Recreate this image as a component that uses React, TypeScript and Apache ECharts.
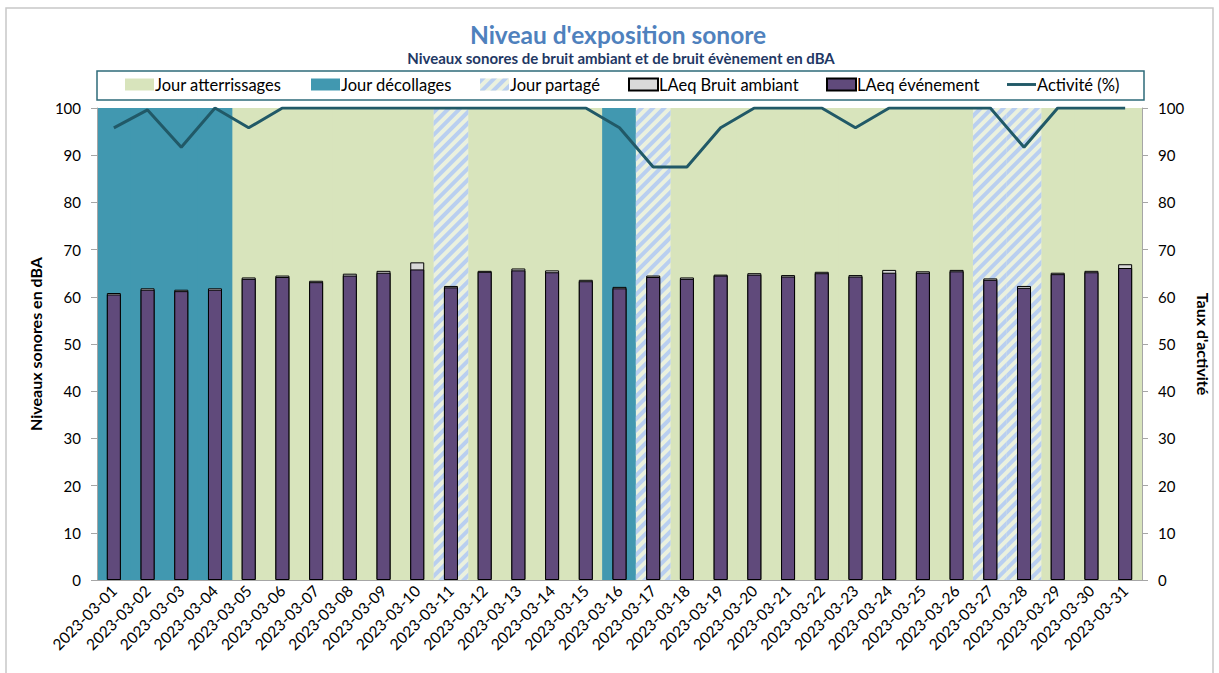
import React, { useEffect, useRef } from "react";
import * as echarts from "echarts";

const dates = [
  "2023-03-01", "2023-03-02", "2023-03-03", "2023-03-04", "2023-03-05", "2023-03-06", "2023-03-07",
  "2023-03-08", "2023-03-09", "2023-03-10", "2023-03-11", "2023-03-12", "2023-03-13", "2023-03-14",
  "2023-03-15", "2023-03-16", "2023-03-17", "2023-03-18", "2023-03-19", "2023-03-20", "2023-03-21",
  "2023-03-22", "2023-03-23", "2023-03-24", "2023-03-25", "2023-03-26", "2023-03-27", "2023-03-28",
  "2023-03-29", "2023-03-30", "2023-03-31",
];
// A = atterrissages, D = décollages, P = partagé
const dayType = [
  "D", "D", "D", "D", "A", "A", "A", "A", "A", "A", "P", "A", "A", "A", "A", "D",
  "P", "A", "A", "A", "A", "A", "A", "A", "A", "A", "P", "P", "A", "A", "A",
];
const ambient = [
  60.8, 61.8, 61.5, 61.8, 64.1, 64.5, 63.4, 64.9, 65.5, 67.3, 62.3, 65.5, 66.0, 65.6, 63.6, 62.1,
  64.5, 64.1, 64.7, 65.0, 64.6, 65.3, 64.6, 65.7, 65.4, 65.7, 63.9, 62.3, 65.1, 65.5, 66.9,
];
const eventLevel = [
  60.5, 61.5, 61.2, 61.5, 63.8, 64.2, 63.1, 64.5, 65.1, 65.8, 62.0, 65.3, 65.6, 65.2, 63.3, 61.8,
  64.2, 63.8, 64.5, 64.7, 64.3, 65.0, 64.3, 65.1, 65.1, 65.4, 63.6, 61.9, 64.8, 65.2, 66.1,
];
const activity = [
  95.8, 99.6, 91.7, 100, 95.8, 100, 100, 100, 100, 100, 100, 100, 100, 100, 100, 95.8,
  87.5, 87.5, 95.8, 100, 100, 100, 95.8, 100, 100, 100, 100, 91.7, 100, 100, 100,
];
const legendNames = ["Jour atterrissages", "Jour décollages", "Jour partagé", "LAeq Bruit ambiant", "LAeq événement", "Activité (%)"];

const FONT = "Lato, 'Noto Sans', sans-serif";
const GREEN = "#d8e4bc";
const BLUE = "#4198b0";
const HATCH_BG = "#ebf1de";
const HATCH_FG = "#b9cff0";
const LINE = "#215967";

export default function App() {
  const ref = useRef<HTMLDivElement>(null);
  useEffect(() => {
    document.body.style.margin = "0";
    if (!ref.current) return;
    const chart = echarts.init(ref.current, undefined, { renderer: "svg" });
    const band = (t: string) => dayType.map((d) => (d === t ? 100 : "-"));
    const axisLineStyle = { color: "#a6a6a6", width: 1 };
    const legendLefts = [125, 311, 480, 628, 826, 1007];
    const legends = legendNames.map((name, i) => ({
      left: legendLefts[i],
      top: 76,
      padding: 0,
      itemWidth: 29,
      itemHeight: 12,
      selectedMode: false,
      textStyle: { fontFamily: FONT, fontSize: 16.5, color: "#000", padding: [0, 0, 0, -4] },
      data: [
        i === 5
          ? { name, icon: "path://M0 0 H30 V3 H0 Z" }
          : { name, icon: "rect" },
      ],
    }));
    chart.setOption({
      animation: false,
      backgroundColor: "#fff",
      graphic: [
        { type: "rect", shape: { x: 6, y: 8, width: 1207, height: 680 }, style: { fill: "none", stroke: "#c8c8c8", lineWidth: 1.5 }, z: -10 },
        { type: "rect", shape: { x: 97, y: 71, width: 1047, height: 29 }, style: { fill: "#fff", stroke: "#2e6b7a", lineWidth: 1.5 }, z: -5 },
        { type: "text", x: 618, y: 34, style: { text: "Niveau d'exposition sonore", align: "center", verticalAlign: "middle", fontFamily: FONT, fontSize: 24.5, fontWeight: "bold", fill: "#4f81bd" } },
        { type: "text", x: 621, y: 58, style: { text: "Niveaux sonores de bruit ambiant et de bruit évènement en dBA", align: "center", verticalAlign: "middle", fontFamily: FONT, fontSize: 15, fontWeight: "bold", fill: "#1f3864" } },
      ],
      legend: legends,
      grid: { left: 97, right: 76, top: 108, bottom: 93 },
      xAxis: [
        {
          type: "category",
          data: dates,
          z: 5,
          axisLine: { lineStyle: axisLineStyle },
          axisTick: { lineStyle: axisLineStyle, length: 6 },
          axisLabel: { rotate: 45, interval: 0, fontFamily: FONT, fontSize: 15.5, color: "#000", margin: 8 },
        },
        { type: "category", data: dates, show: false },
      ],
      yAxis: [
        {
          type: "value", min: 0, max: 100, interval: 10, z: 5,
          name: "Niveaux sonores en dBA", nameLocation: "middle", nameGap: 54, nameRotate: 90,
          nameTextStyle: { fontFamily: FONT, fontSize: 16, fontWeight: "bold", color: "#000" },
          axisLine: { show: true, lineStyle: axisLineStyle },
          axisTick: { show: true, length: 6, lineStyle: axisLineStyle },
          splitLine: { show: false },
          axisLabel: { fontFamily: FONT, fontSize: 15, color: "#000", margin: 16 },
        },
        {
          type: "value", min: 0, max: 100, interval: 10, z: 5, position: "right",
          name: "Taux d'activité", nameLocation: "middle", nameGap: 49, nameRotate: -90,
          nameTextStyle: { fontFamily: FONT, fontSize: 16, fontWeight: "bold", color: "#000" },
          axisLine: { show: true, lineStyle: axisLineStyle },
          axisTick: { show: true, length: 6, lineStyle: axisLineStyle },
          splitLine: { show: false },
          axisLabel: { fontFamily: FONT, fontSize: 15, color: "#000", margin: 16 },
        },
      ],
      series: [
        { name: legendNames[0], type: "bar", xAxisIndex: 1, yAxisIndex: 0, stack: "band", barWidth: "103%", z: 1, data: band("A"), itemStyle: { color: GREEN } },
        { name: legendNames[1], type: "bar", xAxisIndex: 1, yAxisIndex: 0, stack: "band", barWidth: "103%", z: 1, data: band("D"), itemStyle: { color: BLUE } },
        {
          name: legendNames[2], type: "bar", xAxisIndex: 1, yAxisIndex: 0, stack: "band", barWidth: "103%", z: 1, data: band("P"),
          itemStyle: {
            color: HATCH_BG,
            decal: { symbol: "rect", symbolSize: 1, color: HATCH_FG, dashArrayX: [1, 0], dashArrayY: [4, 4], rotation: -Math.PI / 4 },
          },
        },
        { name: legendNames[3], type: "bar", xAxisIndex: 0, yAxisIndex: 0, barWidth: 14, barGap: "-100%", z: 2, data: ambient, itemStyle: { color: "#d9d9d9", borderColor: "#000", borderWidth: 1 } },
        { name: legendNames[4], type: "bar", xAxisIndex: 0, yAxisIndex: 0, barWidth: 14, barGap: "-100%", z: 3, data: eventLevel, itemStyle: { color: "#604a7b", borderColor: "#000", borderWidth: 1 } },
        { name: legendNames[5], type: "line", xAxisIndex: 0, yAxisIndex: 1, z: 4, symbol: "none", data: activity, lineStyle: { color: LINE, width: 3 }, itemStyle: { color: LINE } },
      ],
    });
    return () => chart.dispose();
  }, []);
  return <div ref={ref} style={{ width: 1219, height: 673 }} />;
}
